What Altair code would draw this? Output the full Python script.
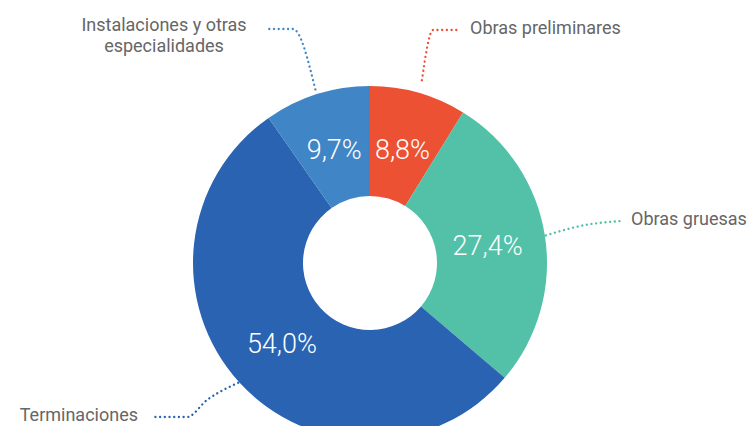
import math
import altair as alt
import pandas as pd

# ---- data ----
categories = ["Obras preliminares", "Obras gruesas", "Terminaciones", "Instalaciones y otras\nespecialidades"]
values = [8.8, 27.4, 54.0, 9.7]
pct_labels = ["8,8%", "27,4%", "54,0%", "9,7%"]
colors = ["#EC5134", "#52C1A8", "#2A63B2", "#4086C7"]

# ---- layout ----
W, H = 740, 418
CX, CY = 362, 255
R_OUT, R_IN, R_TXT = 177, 67, 119
FONT = "Roboto"
LABEL_COLOR = "#666666"

df = pd.DataFrame({"cat": categories, "value": values, "pct": pct_labels, "idx": range(len(values))})

color_scale = alt.Scale(domain=categories, range=colors)
base = alt.Chart(df).encode(
    theta=alt.Theta("value:Q", stack=True),
    order=alt.Order("idx:Q"),
    x=alt.value(CX),
    y=alt.value(CY),
)
arcs = base.mark_arc(outerRadius=R_OUT, innerRadius=R_IN).encode(
    color=alt.Color("cat:N", scale=color_scale, legend=None)
)
pcts = base.mark_text(radius=R_TXT, fontSize=27, font=FONT, fontWeight=300, color="white", dy=2).encode(
    text="pct:N"
)

# leader lines: start at slice mid-angle, then layout offsets
total = sum(values)
cum = 0
mids = []
for v in values:
    mids.append((cum + v / 2) / total * 2 * math.pi)
    cum += v

def polar(a, r):
    return CX + r * math.sin(a), CY - r * math.cos(a)

bends = [
    [(425, 22), (452, 22)],
    [(577, 217), (614, 213)],
    [(199, 392), (179, 409), (144, 409)],
    [(285, 21), (257, 21)],
]
start_r = [190, 178, 178, 182]
rows = []
for i, cat in enumerate(categories):
    sx, sy = polar(mids[i], start_r[i])
    pts = [(sx, sy)] + bends[i]
    for j, (px, py) in enumerate(pts):
        rows.append({"cat": cat, "px": px, "py": py, "k": j, "col": colors[i]})
ldf = pd.DataFrame(rows)

leaders = alt.Chart(ldf).mark_line(
    strokeDash=[0.1, 4.6], strokeCap="round", strokeWidth=2.3, interpolate="monotone"
).encode(
    x=alt.X("px:Q", scale=None),
    y=alt.Y("py:Q", scale=None),
    detail="cat:N",
    order="k:Q",
    color=alt.Color("col:N", scale=None),
)

lab_pos = {
    categories[0]: (462, 21, "left"),
    categories[1]: (623, 212, "left"),
    categories[2]: (130, 408, "right"),
    categories[3]: (156, 17.5, "center"),
}
lrows = [{"t": c, "lx": lab_pos[c][0], "ly": lab_pos[c][1], "al": lab_pos[c][2]} for c in categories]
labdf = pd.DataFrame(lrows)

label_layers = []
for al in ["left", "right", "center"]:
    label_layers.append(
        alt.Chart(labdf[labdf["al"] == al]).mark_text(
            align=al, baseline="middle", fontSize=18, font=FONT, color=LABEL_COLOR,
            lineBreak="\n", lineHeight=21,
        ).encode(
            x=alt.X("lx:Q", scale=None),
            y=alt.Y("ly:Q", scale=None),
            text="t:N",
        )
    )

chart = alt.layer(arcs, pcts, leaders, *label_layers).properties(
    width=W, height=H, padding=0, autosize="none"
).configure_view(stroke=None)

chart.save("out.html", embed_options={"renderer": "svg", "actions": False})
